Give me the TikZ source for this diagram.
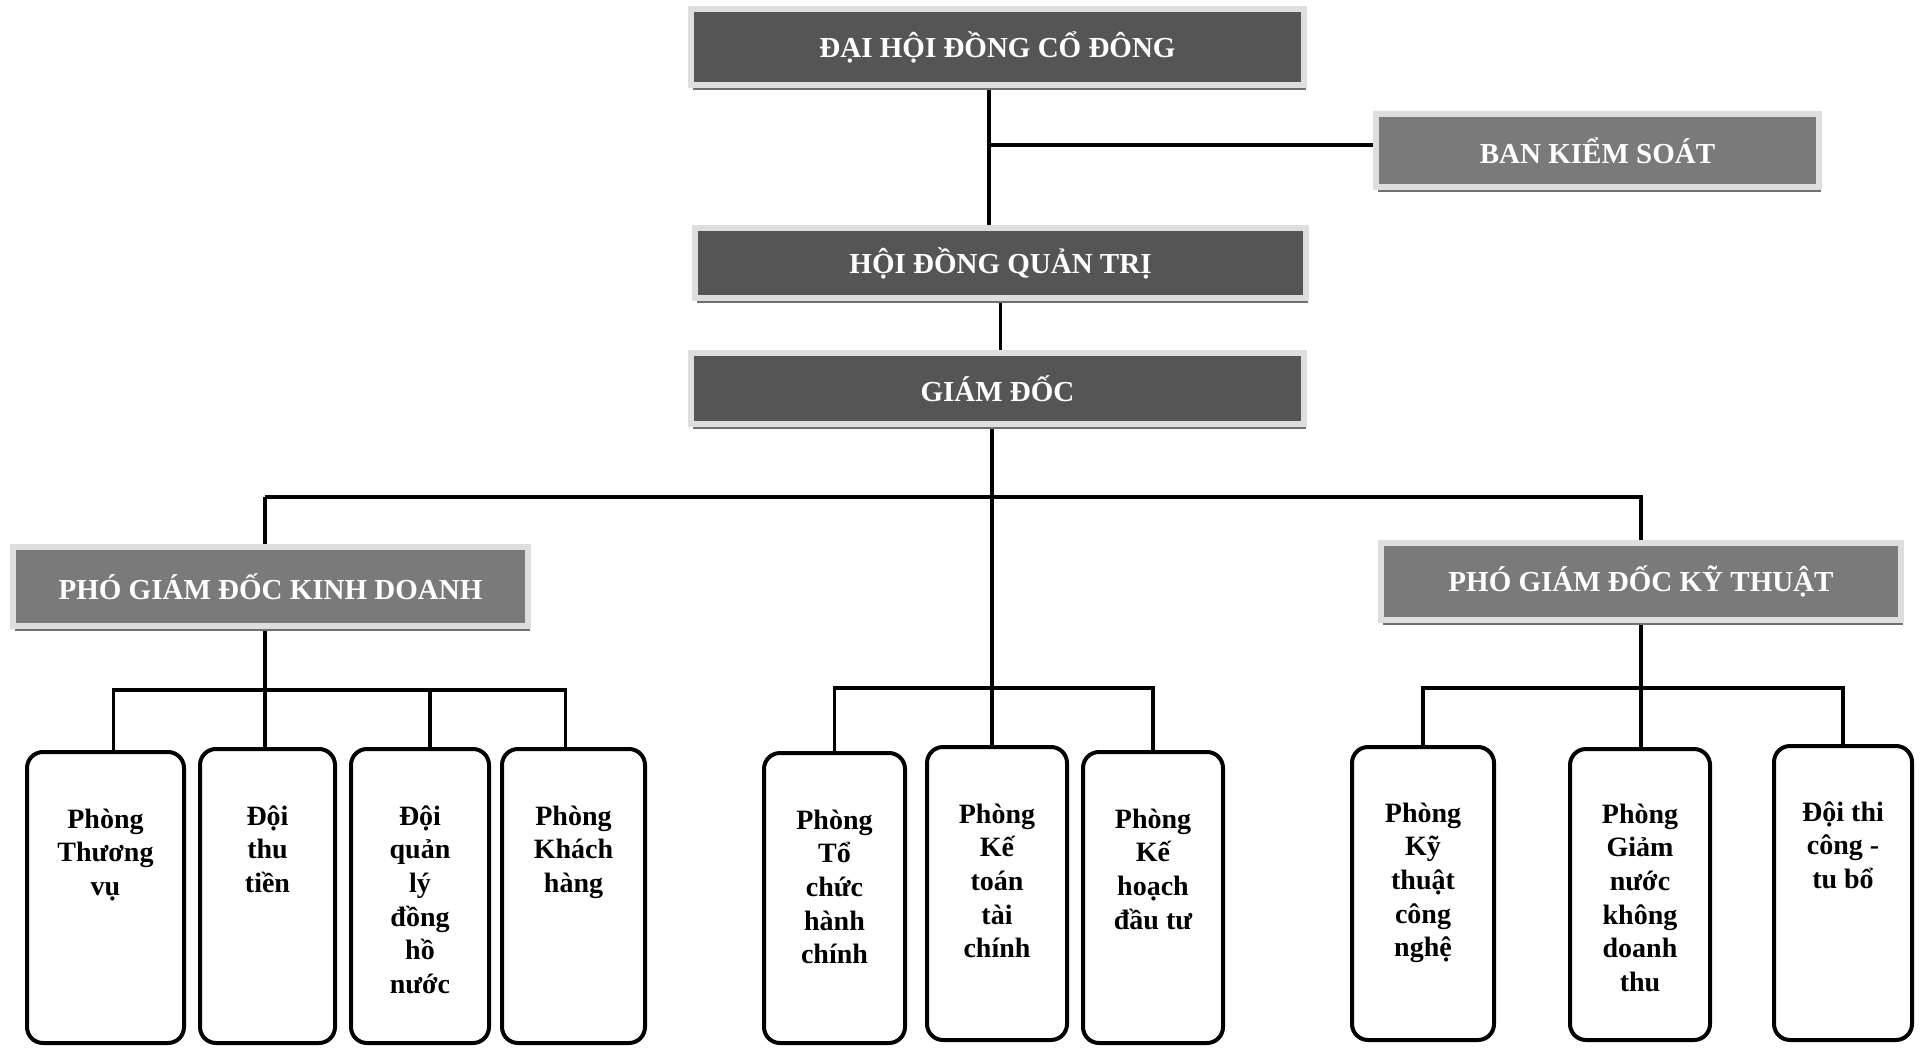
\documentclass[tikz,border=0pt]{standalone}
\usepackage{fontspec}
\setmainfont{Liberation Serif}
\usetikzlibrary{shadows,backgrounds}
\definecolor{darkfill}{HTML}{555555}
\definecolor{midfill}{HTML}{7A7A7A}
\definecolor{framegray}{HTML}{DEDEDE}
\definecolor{shadowgray}{HTML}{707070}
\newcommand\deptlines[1]{\vtop{\halign{\hfil##\hfil\cr#1\crcr}}}
\tikzset{
  hdr/.style={draw=framegray, line width=3pt, fill=#1, text=white,
    font=\fontsize{14.5}{17}\selectfont\bfseries, inner sep=0pt,
    drop shadow={shadow xshift=0.8pt, shadow yshift=-2.4pt, fill=shadowgray, opacity=1}},
  dept/.style={draw=black, line width=2pt, rounded corners=8pt, fill=white, inner sep=0pt},
  depttext/.style={anchor=base, inner sep=0pt, font=\fontsize{14}{16.85}\selectfont\bfseries},
  conn/.style={draw=black, line width=1.6pt}
}
\begin{document}
\begin{tikzpicture}[x=0.5pt,y=-0.5pt]
\useasboundingbox (0,0) rectangle (1926,1048);

% header boxes
\node[hdr=darkfill, minimum width=306.5pt, minimum height=38pt] (dhdcd) at (997.5,47) {ĐẠI HỘI ĐỒNG CỔ ĐÔNG};
\node[hdr=midfill, minimum width=221.5pt, minimum height=36.5pt] (bks) at (1597.5,150.5) {BAN KIỂM SOÁT};
\node[hdr=darkfill, minimum width=305.5pt, minimum height=35pt] (hdqt) at (1000.5,263) {HỘI ĐỒNG QUẢN TRỊ};
\node[hdr=darkfill, minimum width=306.5pt, minimum height=35.5pt] (gd) at (997.5,388.5) {GIÁM ĐỐC};
\node[hdr=midfill, minimum width=257.5pt, minimum height=39.5pt] (pgdkd) at (270.5,586.5) {PHÓ GIÁM ĐỐC KINH DOANH};
\node[hdr=midfill, minimum width=260pt, minimum height=38.5pt] (pgdkt) at (1641,581.5) {PHÓ GIÁM ĐỐC KỸ THUẬT};

% department boxes
\node[dept, minimum width=78.5pt, minimum height=145.5pt] (b1) at (105.5,897.5) {};
\node[dept, minimum width=67.5pt, minimum height=147pt] (b2) at (267.5,896) {};
\node[dept, minimum width=69pt, minimum height=147pt] (b3) at (420,896) {};
\node[dept, minimum width=71.5pt, minimum height=147pt] (b4) at (573.5,896) {};
\node[dept, minimum width=70.5pt, minimum height=145pt] (b5) at (834.5,898) {};
\node[dept, minimum width=70pt, minimum height=146.5pt] (b6) at (997,893.5) {};
\node[dept, minimum width=70pt, minimum height=145.5pt] (b7) at (1153,897.5) {};
\node[dept, minimum width=71pt, minimum height=146.5pt] (b8) at (1423,893.5) {};
\node[dept, minimum width=70pt, minimum height=145.5pt] (b9) at (1640,894.5) {};
\node[dept, minimum width=69pt, minimum height=147pt] (b10) at (1843,893) {};

% department texts
\node[depttext] (t1) at (105.5,828) {\deptlines{Phòng\cr Thương\cr vụ}};
\node[depttext] (t2) at (267.5,825) {\deptlines{Đội\cr thu\cr tiền}};
\node[depttext] (t3) at (420,825) {\deptlines{Đội\cr quản\cr lý\cr đồng\cr hồ\cr nước}};
\node[depttext] (t4) at (573.5,825) {\deptlines{Phòng\cr Khách\cr hàng}};
\node[depttext] (t5) at (834.5,829) {\deptlines{Phòng\cr Tổ\cr chức\cr hành\cr chính}};
\node[depttext] (t6) at (997,823) {\deptlines{Phòng\cr Kế\cr toán\cr tài\cr chính}};
\node[depttext] (t7) at (1153,828) {\deptlines{Phòng\cr Kế\cr hoạch\cr đầu tư}};
\node[depttext] (t8) at (1423,822) {\deptlines{Phòng\cr Kỹ\cr thuật\cr công\cr nghệ}};
\node[depttext] (t9) at (1640,823) {\deptlines{Phòng\cr Giảm\cr nước\cr không\cr doanh\cr thu}};
\node[depttext] (t10) at (1843,821) {\deptlines{Đội thi\cr công -\cr tu bổ}};

% bus coordinates
\coordinate (topbus) at (992,497);
\coordinate (lbus) at (265,690);
\coordinate (mbus) at (992,688);
\coordinate (rbus) at (1640,688);
\coordinate (bksjoin) at (989,145);

\begin{pgfonlayer}{background}
\fill[white] (0,0) rectangle (1926,1048);
\draw[conn] (bksjoin |- dhdcd.south) -- (bksjoin |- hdqt.north);
\draw[conn] (bksjoin) -- (bksjoin -| bks.west);
\draw[conn] (hdqt.south) -- (hdqt.south |- gd.north);
\draw[conn] (topbus -| lbus) |- (topbus) -| (pgdkt.north);
\draw[conn] (topbus -| lbus) -- (lbus |- pgdkd.north);
\draw[conn] (topbus |- gd.south) -- (topbus |- b6.north);
% left group
\draw[conn] (lbus |- pgdkd.south) -- (lbus |- b2.north);
\draw[conn] ([xshift=4pt]b1.north) |- (lbus) -| ([xshift=-4pt]b4.north);
\draw[conn] ([xshift=5pt]b3.north) -- ([xshift=5pt]b3.north |- lbus);
% middle group
\draw[conn] (b5.north) |- (mbus) -| (b7.north);
% right group
\draw[conn] (pgdkt.south) -- (pgdkt.south |- b9.north);
\draw[conn] (b8.north) |- (rbus) -| (b10.north);
\end{pgfonlayer}
\end{tikzpicture}
\end{document}
